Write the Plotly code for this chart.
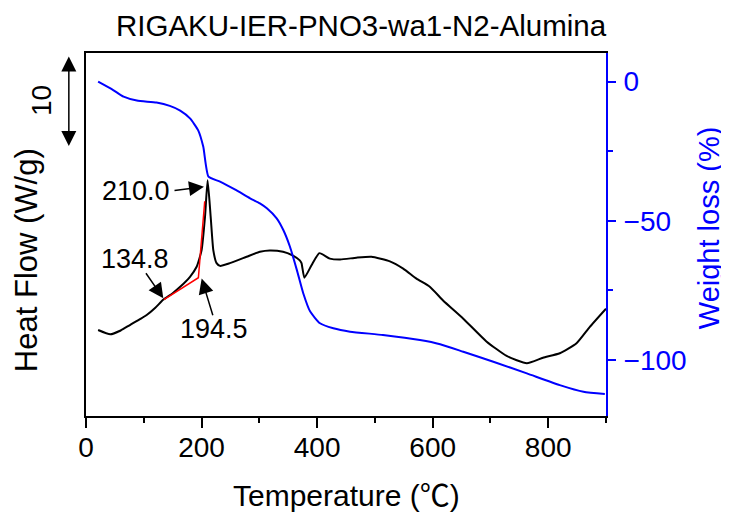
import plotly.graph_objects as go

# ---- data ----
temp_hf = [21, 42, 60, 76, 95, 105, 120, 134, 150, 163, 180, 191.5, 200, 206, 210.5,
           215.8, 220.4, 226, 232, 249, 278, 301, 318, 341, 359, 370, 373, 378, 390.6,
           404, 422, 440, 468, 494, 526, 549, 572, 595, 618, 653, 693, 728, 763, 791,
           820, 849, 872, 900]
heat_flow = [9.45, 8.98, 9.4, 10.0, 10.7, 11.1, 11.9, 12.8, 13.5, 14.2, 15.3, 16.4, 18.2,
             21.9, 25.9, 21.9, 18.2, 16.8, 16.5, 16.8, 17.5, 18.05, 18.2, 18.05, 17.6,
             17.1, 16.8, 15.2, 16.6, 17.9, 17.3, 17.2, 17.4, 17.5, 17.0, 16.2, 15.1,
             14.2, 12.7, 10.7, 8.2, 6.6, 5.8, 6.4, 6.9, 8.0, 9.8, 11.8]

temp_w = [21, 47, 65, 88, 122, 145, 163, 180, 194, 203, 212, 232, 260, 284, 301, 313,
          330, 341.5, 353, 365, 376, 388, 405, 428, 457, 514, 578, 613, 653, 705, 763,
          820, 861, 898]
weight = [0, -3.0, -5.4, -6.8, -7.5, -8.7, -10.4, -13.2, -17.4, -23.4, -34.1, -35.9,
          -39.0, -41.9, -43.7, -45.5, -49.1, -53.3, -59.3, -67.7, -76.0, -82.6, -86.8,
          -88.6, -89.8, -91.0, -92.8, -94.3, -97.0, -100.6, -104.8, -109.0, -111.4, -112.2]

onset_t = [134.8, 194.5, 205.5]
onset_hf = [12.8, 15.2, 23.6]

x_ticks = [0, 200, 400, 600, 800]
x_minor = [100, 300, 500, 700, 900]
w_ticks = [0, -50, -100]
w_minor = [-25, -75]

NUM = "Liberation Sans, Arial, sans-serif"
TXT = "Liberation Sans, Arial, Noto Sans CJK JP, sans-serif"

fig = go.Figure()
fig.add_trace(go.Scatter(x=temp_hf, y=heat_flow, mode="lines", yaxis="y",
                         line=dict(color="black", width=2, shape="spline", smoothing=0.5),
                         showlegend=False))
fig.add_trace(go.Scatter(x=onset_t, y=onset_hf, mode="lines", yaxis="y",
                         line=dict(color="red", width=1.5), showlegend=False))
fig.add_trace(go.Scatter(x=temp_w, y=weight, mode="lines", yaxis="y2",
                         line=dict(color="blue", width=2, shape="spline", smoothing=0.5),
                         showlegend=False))

ann = []
def text(x, y, s, size=27, color="black", angle=0, xref="x", yref="y", font=NUM):
    ann.append(dict(x=x, y=y, xref=xref, yref=yref, text=s, showarrow=False,
                    textangle=angle, font=dict(family=font, size=size, color=color),
                    xanchor="center", yanchor="middle"))

def arrow(x0, y0, x1, y1):
    ann.append(dict(x=x1, y=y1, ax=x0, ay=y0, xref="x", yref="y", axref="x", ayref="y",
                    text="", showarrow=True, arrowhead=2, arrowsize=2.0, arrowwidth=1.5,
                    arrowcolor="black", standoff=0, startstandoff=0))

text(87, 24.7, "210.0")
arrow(150.6, 24.76, 204.2, 25.2)
text(84, 17.3, "134.8")
arrow(102, 15.86, 133.8, 12.93)
text(222, 9.6, "194.5")
arrow(220.3, 10.9, 200.2, 15.1)

# scale arrow (10 W/g)
ann.append(dict(x=-0.033, xref="paper", y=29.67, yref="y", ax=0, axref="pixel",
                ay=39.67, ayref="y", text="", showarrow=True, arrowhead=2,
                arrowside="end+start", arrowsize=2.0, arrowwidth=1.5, arrowcolor="black",
                standoff=0, startstandoff=0))
text(-0.085, 34.7, "10", size=28, angle=-90, xref="paper")

# axis titles
text(0.5, -0.218, "Temperature (℃)", size=30, xref="paper", yref="paper", font=TXT)
text(-0.113, 0.43, "Heat Flow (W/g)", size=31, angle=-90, xref="paper", yref="paper", font=TXT)
text(1.198, 0.52, "Weight loss (%)", size=29, color="blue", angle=-90, xref="paper",
     yref="paper", font=TXT)
text(0.529, 1.077, "RIGAKU-IER-PNO3-wa1-N2-Alumina", size=29.5, xref="paper",
     yref="paper", font=TXT)

# the page body has an 8px default margin, so the figure is shrunk by 8px
fig.update_layout(
    width=721, height=504,
    margin=dict(l=78, r=123, t=45, b=96),
    plot_bgcolor="white", paper_bgcolor="white",
    annotations=ann,
    xaxis=dict(range=[0, 900], showline=True, linecolor="black", linewidth=2, mirror=True,
               tickmode="array", tickvals=x_ticks, ticks="outside", ticklen=10,
               tickwidth=2, tickcolor="black", showgrid=False, zeroline=False,
               tickfont=dict(family=NUM, size=28, color="black"), ticklabelstandoff=-5,
               minor=dict(tickmode="array", tickvals=x_minor, ticks="outside", ticklen=5,
                          tickwidth=2, tickcolor="black", showgrid=False)),
    yaxis=dict(range=[0, 39.9], showline=True, linecolor="black", linewidth=2,
               showticklabels=False, ticks="", showgrid=False, zeroline=False),
    yaxis2=dict(range=[-120.1, 10.3], overlaying="y", side="right", anchor="x",
                showline=True, linecolor="blue", linewidth=2, tickmode="array",
                tickvals=w_ticks, ticks="outside", ticklen=8, tickwidth=2,
                tickcolor="blue", showgrid=False, zeroline=False,
                tickfont=dict(family=NUM, size=28, color="blue"), ticklabelstandoff=2,
                minor=dict(tickmode="array", tickvals=w_minor, ticks="outside",
                           ticklen=5, tickwidth=2, tickcolor="blue", showgrid=False)),
)

fig.write_html("out.html")
